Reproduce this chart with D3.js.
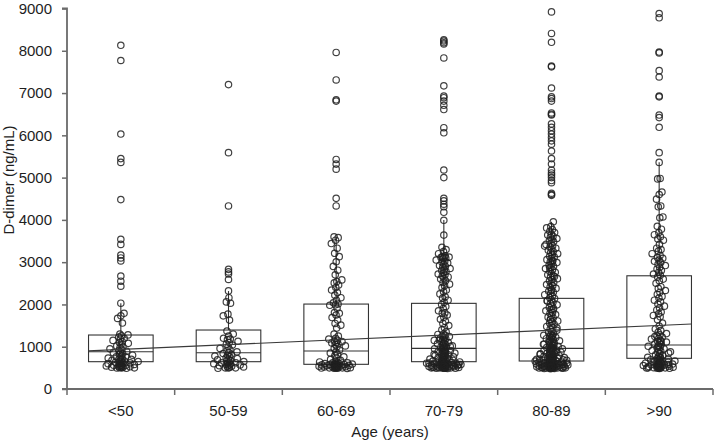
<!DOCTYPE html>
<html><head><meta charset="utf-8">
<script src="https://cdn.jsdelivr.net/npm/d3@7"></script>
<style>body{margin:0;background:#fff}svg{display:block}text{font-family:"Liberation Sans",Arial,Helvetica,sans-serif}</style>
</head><body><svg id="c" width="714" height="440"></svg>
<script>
const categories = ["<50", "50-59", "60-69", "70-79", "80-89", ">90"];
const yTicks = [0, 1000, 2000, 3000, 4000, 5000, 6000, 7000, 8000, 9000];
const boxQ1 = [646, 646, 584, 646, 662, 726];
const boxMedian = [882, 858, 898, 962, 962, 1040];
const boxQ3 = [1277, 1395, 2009, 2026, 2144, 2678];
const whiskerHigh = [2026, 2317, 3600, 3995, 3955, 5366];
const whiskerLow = [490, 490, 485, 485, 480, 485];
const trendValues = [902, 1537]; // fit line at left edge of first box, right edge of last box

const ptsLt50 = [8130, 7770, 6030, 5450, 5360, 4480, 3540, 3420, 3170, 3100, 3030, 2670, 2550, 2430, 2030, 1790, 1730, 1670, 1560,
 1300, 1280, 1260, 1230, 1200, 1180, 1150, 1120, 1100, 1080, 1050, 1020, 1000, 980, 950, 930, 910, 890, 870, 860, 840, 820, 800, 780, 760, 760, 750, 730, 720, 700, 700, 690, 680, 660, 650, 650, 640, 630, 620, 610, 600, 600, 590, 580, 570, 560, 560, 550, 545, 540, 530, 525, 520, 515, 510, 505, 500, 500, 495, 490];
const pts50s = [7200, 5590, 4330, 2830, 2770, 2720, 2590, 2320, 2160, 2060, 2030, 1770, 1730, 1630, 1370,
 1300, 1250, 1200, 1180, 1170, 1130, 1100, 1060, 1040, 1000, 960, 930, 900, 880, 860, 840, 820, 800, 780, 760, 740, 720, 700, 690, 680, 670, 650, 640, 620, 620, 610, 600, 590, 580, 570, 560, 550, 540, 530, 520, 510, 500, 500, 495, 490];
const pts60s = [7960, 7310, 6840, 6810, 5430, 5320, 5200, 4510, 4330, 3600, 3580, 3520, 3440, 3330, 3210, 3130, 3010, 2900, 2810, 2700, 2580, 2540, 2510, 2460, 2400, 2340, 2280, 2220, 2160, 2100, 2040, 2010, 1990, 1980, 1910, 1810, 1790, 1750, 1690, 1630, 1550, 1510, 1440,
 1300, 1250, 1200, 1180, 1150, 1130, 1120, 1100, 1090, 1070, 1050, 1020, 1000, 960, 920, 880, 850, 820, 790, 760, 730, 700, 680, 660, 640, 630, 620, 620, 610, 600, 600, 595, 590, 585, 580, 580, 575, 570, 565, 560, 560, 555, 550, 545, 540, 540, 535, 530, 525, 520, 520, 515, 510, 505, 500, 500, 500, 495, 495, 490, 490, 485];
const pts70s = [8260, 8230, 8190, 8160, 7830, 7170, 6930, 6890, 6810, 6710, 6610, 6180, 6060, 5180, 5000, 4510, 4450, 4370, 4310, 4180, 3990,
 3640, 3350, 3300, 3250, 3200, 3150, 3130, 3120, 3120, 3110, 3100, 3080, 3050, 3020, 3000, 2980, 2950, 2920, 2900, 2880, 2850, 2820, 2800, 2780, 2750, 2720, 2700, 2680, 2650, 2620, 2600, 2560, 2520, 2480, 2440, 2400, 2340, 2300, 2250, 2180, 2150, 2100, 2050, 2000, 1950, 1900, 1850, 1800, 1790, 1750, 1700, 1650, 1600, 1550, 1500, 1450, 1400, 1350,
 1300, 1290, 1270, 1250, 1240, 1220, 1200, 1190, 1170, 1150, 1140, 1120, 1100, 1090, 1070, 1050, 1040, 1020, 1000, 990, 980, 970,
 950, 940, 920, 910, 900, 880, 870, 860, 850, 840, 820, 810, 800, 790, 780, 770, 760, 750, 740, 730, 720, 710, 700, 690, 680, 670, 660, 650, 650,
 640, 635, 630, 625, 620, 615, 610, 605, 600, 600, 595, 590, 585, 580, 580, 575, 570, 565, 560, 560, 555, 550, 550, 545, 540, 540, 535, 530, 530, 525, 520, 520, 515, 510, 510, 505, 500, 500, 500, 500, 495, 495, 490, 490, 490, 485,
 630, 610, 590, 570, 550, 530, 510, 500, 620, 580, 540, 520, 700, 760, 820, 880, 940, 1010, 1080, 1160];
const pts80s = [8920, 8410, 8200, 7640, 7620, 7120, 6910, 6870, 6810, 6530, 6500, 6480, 6270, 6190, 6110, 6030, 5950, 5870, 5790, 5630, 5450, 5320, 5180, 5110, 5060, 5000, 4930, 4880, 4630, 4600, 4580,
 3955, 3840, 3810, 3770, 3730, 3700, 3660, 3640, 3610, 3590, 3560, 3530, 3510, 3480, 3440, 3420, 3390, 3360, 3330, 3310, 3280, 3250, 3230, 3200, 3180, 3140, 3120, 3090, 3060, 3040, 3010, 2990, 2960, 2930, 2900, 2880, 2850, 2820, 2780, 2760, 2730, 2700, 2680, 2650, 2610, 2590, 2560, 2520, 2500, 2470, 2440, 2410, 2380, 2350, 2310, 2290, 2260, 2230, 2200, 2160, 2140, 2110, 2080, 2050, 2020, 1990, 1960, 1930, 1900, 1880, 1850, 1810, 1790, 1760, 1730, 1700, 1680, 1650, 1610, 1590, 1560, 1530, 1500, 1480, 1450, 1420, 1390, 1360, 1330, 1310,
 1290, 1270, 1260, 1240, 1220, 1210, 1190, 1170, 1160, 1140, 1120, 1110, 1090, 1070, 1060, 1040, 1020, 1010, 990, 980, 970, 960, 950, 940, 930, 920, 910, 900, 890, 880, 870, 860, 850, 840, 830, 820, 810, 800, 790, 780, 770, 760, 750, 745, 740, 730, 725, 720, 710, 705, 700, 690, 685, 680, 670, 665, 660, 650, 645, 640, 635, 630, 625, 620, 615, 610, 605, 600, 600, 595, 590, 590, 585, 580, 580, 575, 570, 570, 565, 560, 560, 555, 550, 550, 545, 540, 540, 535, 530, 530, 525, 520, 520, 515, 510, 510, 505, 505, 500, 500, 500, 500, 495, 495, 495, 490, 490, 490, 485, 485, 480,
 3380, 3020, 2870, 2660, 2330, 2090, 1870, 1640, 1440, 1250, 1130, 1030, 930, 830, 730, 640, 580, 540, 510, 560, 620, 680, 740, 800, 860, 960, 1060, 1180, 520, 500, 530, 550, 600, 650, 700, 790];
const pts90s = [8880, 8780, 7970, 7950, 7530, 7380, 6930, 6910, 6480, 6420, 6190, 5590,
 5360, 4980, 4970, 4660, 4600, 4490, 4330, 4310, 4070, 4050, 3850, 3780, 3700, 3650, 3600, 3550, 3520, 3420, 3330, 3300, 3260, 3200, 3160, 3110, 3090, 3050, 3020, 2990, 2950, 2920, 2880, 2840, 2800, 2760, 2720, 2690, 2650, 2600, 2560, 2500, 2420, 2380, 2330, 2290, 2240, 2190, 2150, 2100, 2060, 2010, 1960, 1920, 1870, 1820, 1780, 1740, 1710, 1640, 1560, 1490, 1420,
 1380, 1340, 1310, 1280, 1260, 1230, 1200, 1180, 1150, 1130, 1110, 1090, 1070, 1050, 1030, 1010, 990, 970, 950, 930, 910, 890, 870, 850, 830, 810, 790, 770, 750, 730, 720, 710, 700, 690, 680, 670, 660, 650, 640, 630, 620, 610, 600, 595, 590, 580, 575, 570, 560, 555, 550, 545, 540, 535, 530, 525, 520, 515, 510, 505, 500, 500, 495, 495, 490, 490, 485,
 1240, 1120, 1000, 880, 760, 650, 580, 530, 500, 620, 560];
const groupPoints = [ptsLt50, pts50s, pts60s, pts70s, pts80s, pts90s];

const svg = d3.select("#c");
const x = d3.scaleBand().domain(categories).range([67, 713]);
const y = d3.scaleLinear().domain([0, 9000]).range([389, 8.5]);
const boxW = x.bandwidth() * 0.6;
const cx = c => x(c) + x.bandwidth() / 2;
const axisColor = "#6b6b6b";
const ink = "#333";
const FS = 15;

// boxes
const boxes = svg.append("g");
categories.forEach((c, i) => {
  const g = boxes.append("g").attr("stroke", ink).attr("fill", "none").attr("stroke-width", 1.1);
  g.append("line").attr("x1", cx(c)).attr("x2", cx(c)).attr("y1", y(boxQ3[i])).attr("y2", y(whiskerHigh[i]));
  g.append("line").attr("x1", cx(c)).attr("x2", cx(c)).attr("y1", y(boxQ1[i])).attr("y2", y(whiskerLow[i]));
  g.append("rect").attr("x", cx(c) - boxW / 2).attr("width", boxW)
    .attr("y", y(boxQ3[i])).attr("height", y(boxQ1[i]) - y(boxQ3[i]));
  g.append("line").attr("x1", cx(c) - boxW / 2).attr("x2", cx(c) + boxW / 2)
    .attr("y1", y(boxMedian[i])).attr("y2", y(boxMedian[i]));
});

// jittered points: tight centre column plus density-scaled scatter (deterministic)
const pg = svg.append("g").attr("fill", "none").attr("stroke", "#202020").attr("stroke-opacity", 0.85).attr("stroke-width", 1.2);
categories.forEach((c, i) => {
  const vals = groupPoints[i];
  const counts = vals.map(v => vals.filter(w => Math.abs(w - v) <= 150).length);
  const maxC = d3.max(counts);
  vals.forEach((v, k) => {
    const r = ((k + 1) * 0.6180339887) % 1;
    const u = 2 * r - 1, a = Math.abs(u), s = Math.sign(u);
    let off = 0;
    if (v <= whiskerHigh[i] && counts[k] > 1) {
      const ratio = counts[k] / maxC;
      const amp = Math.max(4, 18 * Math.sqrt(ratio));
      const core = 2.2;
      const cf = 0.68 - 0.25 * ratio;
      off = a < cf ? s * (a / cf) * core : s * (core + ((a - cf) / (1 - cf)) * (amp - core));
    }
    pg.append("circle").attr("cx", cx(c) + off).attr("cy", y(v)).attr("r", 3.2);
  });
});

// trend line
svg.append("line")
  .attr("x1", cx(categories[0]) - boxW / 2).attr("y1", y(trendValues[0]))
  .attr("x2", cx(categories[categories.length - 1]) + boxW / 2).attr("y2", y(trendValues[1]))
  .attr("stroke", "#3a3a3a").attr("stroke-width", 1.2);

// y axis
const ya = svg.append("g").attr("transform", "translate(67,0)")
  .call(d3.axisLeft(y).tickValues(yTicks).tickSize(5).tickPadding(10).tickFormat(d3.format("d")));
ya.select(".domain").attr("stroke", axisColor).attr("stroke-width", 1.8).attr("d", `M-5,${y(9000)}H0V${y(0)}`);
ya.selectAll(".tick line").attr("stroke", axisColor).attr("stroke-width", 1.5);
ya.selectAll("text").attr("font-size", FS).attr("fill", "#1e1e1e");

// x axis
const xa = svg.append("g").attr("transform", "translate(0,389)")
  .call(d3.axisBottom(x).tickSize(0).tickPadding(16));
xa.select(".domain").attr("stroke", axisColor).attr("stroke-width", 1.8).attr("d", `M${x.range()[0] - 5},0H${x.range()[1]}`);
xa.selectAll("text").attr("font-size", FS).attr("fill", "#1e1e1e");
const bounds = categories.map(c => x(c)).concat([x.range()[1]]);
xa.selectAll(".bt").data(bounds).enter().append("line").attr("class", "bt")
  .attr("x1", d => d).attr("x2", d => d).attr("y1", 0).attr("y2", 6)
  .attr("stroke", axisColor).attr("stroke-width", 1.5);

// titles
svg.append("text").attr("x", 390).attr("y", 437).attr("text-anchor", "middle")
  .attr("font-size", FS).attr("fill", "#1e1e1e").text("Age (years)");
svg.append("text").attr("transform", `translate(13.5,180) rotate(-90)`)
  .attr("text-anchor", "middle").attr("font-size", FS).attr("fill", "#1e1e1e").text("D-dimer (ng/mL)");
</script></body></html>
